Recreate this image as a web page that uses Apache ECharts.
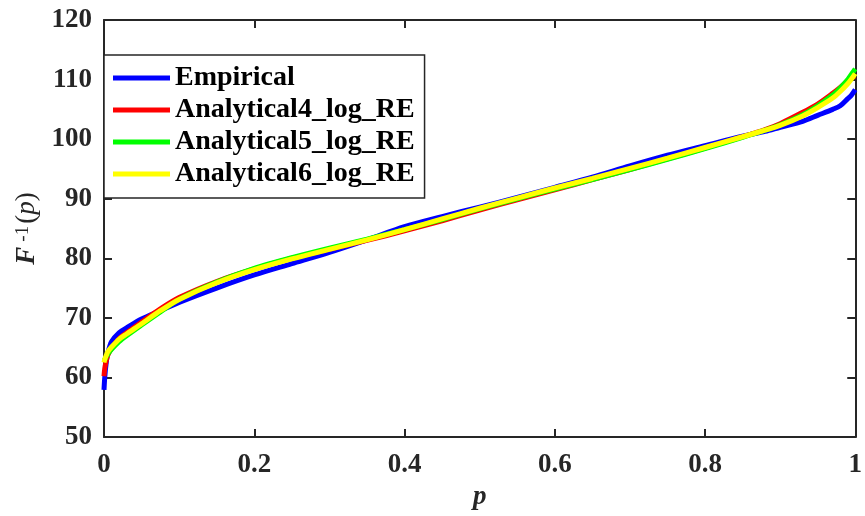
<!DOCTYPE html>
<html>
<head>
<meta charset="utf-8">
<script src="https://cdn.jsdelivr.net/npm/echarts@6/dist/echarts.min.js"></script>
<style>html,body{margin:0;padding:0;background:#fff}#c{width:865px;height:516px}</style>
</head>
<body>
<div id="c"></div>
<script>
var pVals = [0, 0.001, 0.003, 0.005, 0.01, 0.02, 0.03, 0.05, 0.075, 0.1, 0.15, 0.2, 0.25, 0.3, 0.35, 0.4, 0.45, 0.5, 0.55, 0.6, 0.65, 0.7, 0.75, 0.8, 0.85, 0.88, 0.9, 0.93, 0.95, 0.97, 0.98, 0.99, 0.995, 1];
var empirical = [57.9, 60.0, 62.5, 64.0, 66.0, 67.5, 68.3, 69.8, 71.2, 72.6, 75.0, 77.2, 79.1, 81.0, 83.1, 85.3, 87.0, 88.6, 90.2, 91.9, 93.6, 95.5, 97.3, 98.9, 100.5, 101.3, 102.0, 103.0, 104.0, 105.0, 105.6, 106.8, 107.4, 108.3];
var analytical4 = [60.2, 61.5, 62.8, 63.7, 64.9, 66.5, 67.5, 69.3, 71.5, 73.4, 76.1, 78.2, 80.0, 81.5, 83.0, 84.6, 86.3, 88.1, 89.8, 91.5, 93.2, 94.9, 96.7, 98.5, 100.4, 101.6, 102.6, 104.5, 105.9, 107.7, 108.7, 109.8, 110.3, 110.6];
var analytical5 = [62.8, 63.0, 63.5, 63.9, 64.7, 66.0, 67.0, 68.8, 71.0, 73.1, 76.0, 78.3, 80.1, 81.7, 83.2, 84.8, 86.5, 88.3, 90.0, 91.6, 93.2, 94.9, 96.6, 98.4, 100.3, 101.5, 102.4, 104.1, 105.6, 107.4, 108.6, 110.0, 110.9, 111.8];
var analytical6 = [62.5, 63.0, 63.7, 64.3, 65.1, 66.4, 67.3, 69.0, 71.2, 73.1, 75.9, 78.1, 79.9, 81.5, 83.1, 84.8, 86.6, 88.4, 90.1, 91.8, 93.4, 95.1, 96.8, 98.6, 100.4, 101.5, 102.3, 103.9, 105.3, 106.9, 108.0, 109.3, 110.1, 111.0];
var seriesNames = ['Empirical', 'Analytical4_log_RE', 'Analytical5_log_RE', 'Analytical6_log_RE'];
var seriesColors = ['#0000ff', '#ff0000', '#00ff00', '#ffff00'];

function pairs(arr) { return pVals.map(function (p, i) { return [p, arr[i]]; }); }
var allData = [empirical, analytical4, analytical5, analytical6];

var font = '"Liberation Serif", "Times New Roman", serif';
var axisColor = '#262626';
var lab = { fontFamily: font, fontWeight: 'bold', fontSize: 27, color: '#262626' };

var chart = echarts.init(document.getElementById('c'));
chart.setOption({
  animation: false,
  backgroundColor: '#fff',
  grid: { left: 104, right: 4, top: 20, bottom: 78 },
  legend: {
    left: 104, top: 55, orient: 'vertical',
    data: seriesNames,
    itemWidth: 57, itemHeight: 5, itemGap: 4,
    icon: 'rect',
    padding: [9, 10, 10, 9],
    backgroundColor: '#fff',
    borderColor: '#262626', borderWidth: 1.5,
    textStyle: { fontFamily: font, fontWeight: 'bold', fontSize: 28, color: '#000', lineHeight: 26 }
  },
  xAxis: [{
    type: 'value', min: 0, max: 1, interval: 0.2, position: 'bottom',
    name: 'p', nameLocation: 'middle', nameGap: 47,
    nameTextStyle: { fontFamily: font, fontWeight: 'bold', fontStyle: 'italic', fontSize: 27, color: '#262626' },
    axisLine: { show: true, lineStyle: { color: axisColor, width: 2 } },
    axisTick: { show: true, inside: true, length: 8, lineStyle: { color: axisColor, width: 2 } },
    axisLabel: Object.assign({ margin: 15 }, lab),
    splitLine: { show: false }
  }, {
    type: 'value', min: 0, max: 1, interval: 0.2, position: 'top',
    axisLine: { show: true, onZero: false, lineStyle: { color: axisColor, width: 2 } },
    axisTick: { show: true, inside: true, length: 8, lineStyle: { color: axisColor, width: 2 } },
    axisLabel: { show: false }, splitLine: { show: false }
  }],
  yAxis: [{
    type: 'value', min: 50, max: 120, interval: 10, position: 'left',
    name: '{i|F}{s|-1}{n|(}{pi|p}{n|)}', nameLocation: 'middle', nameGap: 62,
    nameTextStyle: {
      rich: {
        i: { fontFamily: font, fontWeight: 'bold', fontStyle: 'italic', fontSize: 27, color: '#262626' },
        s: { fontFamily: font, fontSize: 19, color: '#262626', verticalAlign: 'top', padding: [0, 2, 0, 5] },
        n: { fontFamily: font, fontSize: 27, color: '#262626' },
        pi: { fontFamily: font, fontStyle: 'italic', fontSize: 27, color: '#262626' }
      }
    },
    axisLine: { show: true, onZero: false, lineStyle: { color: axisColor, width: 2 } },
    axisTick: { show: true, inside: true, length: 8, lineStyle: { color: axisColor, width: 2 } },
    axisLabel: Object.assign({ margin: 12 }, lab),
    splitLine: { show: false }
  }, {
    type: 'value', min: 50, max: 120, interval: 10, position: 'right',
    axisLine: { show: true, onZero: false, lineStyle: { color: axisColor, width: 2 } },
    axisTick: { show: true, inside: true, length: 8, lineStyle: { color: axisColor, width: 2 } },
    axisLabel: { show: false }, splitLine: { show: false }
  }],
  series: seriesNames.map(function (n, k) {
    return {
      name: n, type: 'line', xAxisIndex: 0, yAxisIndex: 0,
      data: pairs(allData[k]), showSymbol: false, symbol: 'none', smooth: 0.3,
      color: seriesColors[k],
      lineStyle: { color: seriesColors[k], width: 5 },
      z: 2 + k
    };
  })
});
</script>
</body>
</html>
